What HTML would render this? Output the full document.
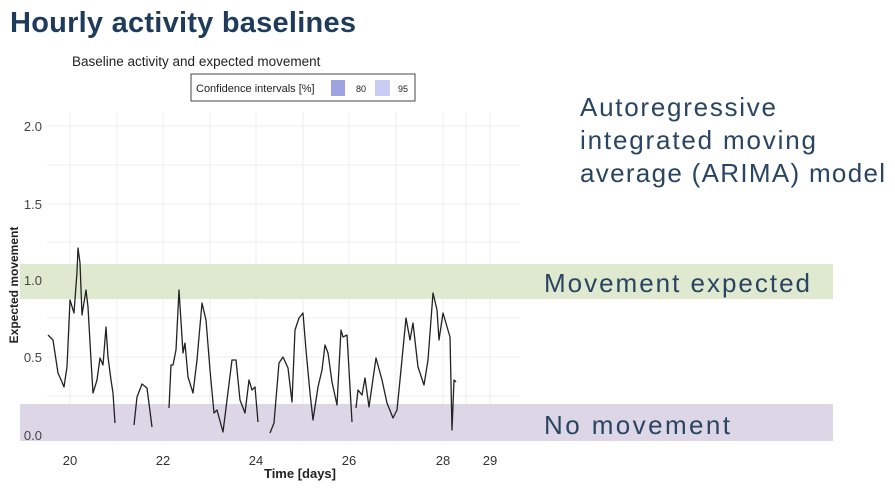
<!DOCTYPE html>
<html><head><meta charset="utf-8"><style>
body{margin:0;width:895px;height:489px;background:#fff;overflow:hidden;font-family:"Liberation Sans",sans-serif;}
</style></head><body>
<svg width="895" height="489" xmlns="http://www.w3.org/2000/svg" font-family="Liberation Sans, sans-serif">
<text x="10" y="32" font-size="29" font-weight="bold" fill="#1f3b5c" textLength="346">Hourly activity baselines</text>
<text x="72" y="66" font-size="13.5" fill="#222">Baseline activity and expected movement</text>
<rect x="191" y="74" width="224" height="27" fill="#fff" stroke="#444" stroke-width="1"/>
<text x="196" y="92" font-size="11" fill="#222">Confidence intervals [%]</text>
<rect x="331" y="80" width="14" height="16" fill="#9da3e0"/>
<text x="356" y="92" font-size="9" fill="#222">80</text>
<rect x="375" y="80" width="15" height="16" fill="#c9cdf4"/>
<text x="398" y="92" font-size="9" fill="#222">95</text>
<g stroke="#ececec" stroke-width="1">
<line x1="47" y1="126" x2="520" y2="126"/><line x1="47" y1="165" x2="520" y2="165"/>
<line x1="47" y1="204" x2="520" y2="204"/><line x1="47" y1="242" x2="520" y2="242"/>
<line x1="47" y1="280" x2="520" y2="280"/><line x1="47" y1="318" x2="520" y2="318"/>
<line x1="47" y1="357" x2="520" y2="357"/><line x1="47" y1="396" x2="520" y2="396"/>
<line x1="47" y1="435" x2="520" y2="435"/>
<line x1="70" y1="112" x2="70" y2="442"/><line x1="117" y1="112" x2="117" y2="442"/>
<line x1="163" y1="112" x2="163" y2="442"/><line x1="210" y1="112" x2="210" y2="442"/>
<line x1="256" y1="112" x2="256" y2="442"/><line x1="303" y1="112" x2="303" y2="442"/>
<line x1="349" y1="112" x2="349" y2="442"/><line x1="396" y1="112" x2="396" y2="442"/>
<line x1="443" y1="112" x2="443" y2="442"/><line x1="466" y1="112" x2="466" y2="442"/>
<line x1="490" y1="112" x2="490" y2="442"/>
</g>
<rect x="20" y="264" width="813" height="35" fill="#dfe9cf"/>
<rect x="20" y="404" width="813" height="37" fill="#dcd6e6"/>
<g font-size="13" fill="#444" text-anchor="end">
<text x="42" y="131">2.0</text><text x="42" y="209">1.5</text><text x="42" y="285">1.0</text>
<text x="42" y="362">0.5</text><text x="42" y="440">0.0</text></g>
<g font-size="13" fill="#333" text-anchor="middle">
<text x="70" y="465">20</text><text x="163" y="465">22</text><text x="256" y="465">24</text>
<text x="349" y="465">26</text><text x="443" y="465">28</text><text x="490" y="465">29</text></g>
<text x="300" y="478" font-size="13" font-weight="bold" fill="#222" text-anchor="middle">Time [days]</text>
<text transform="translate(18,285) rotate(-90)" font-size="12" font-weight="bold" fill="#222" text-anchor="middle">Expected movement</text>
<g fill="none" stroke="#222" stroke-width="1.3" stroke-linejoin="round">
<polyline points="48,335 53,340 58,373 62,382 64,387 67,367 70,300 74,313 77,272 78,248 80,263 82,315 86,290 88,307 91,360 93,393 97,380 100,358 103,365 106,327 108,357 111,380 113,393 115,423"/>
<polyline points="134,425 137,397 142,384 147,388 152,427"/>
<polyline points="169,408 171,365 173,365 176,350 179,290 183,353 185,343 188,377 193,393 197,360 202,303 206,320 210,370 214,413 217,410 223,432 227,400 232,360 236,360 240,400 245,413 249,380 252,390 255,387 258,422"/>
<polyline points="270,433 274,423 279,363 283,357 288,368 292,402 295,330 299,318 303,313 306,350 310,393 313,420 318,387 322,370 325,345 328,353 332,382 337,405 341,330 343,337 347,335 352,422"/>
<polyline points="356,408 358,390 362,395 365,378 369,407 376,358 382,380 387,403 393,418 397,410 400,380 406,318 410,340 413,323 418,367 424,385 428,360 433,293 437,310 439,340 443,313 450,337 452,430 454,380 456,382"/>
</g>
<g font-size="26" fill="#2a4562">
<text x="580" y="116" textLength="196">Autoregressive</text>
<text x="580" y="149" textLength="236">integrated moving</text>
<text x="580" y="182" textLength="305">average (ARIMA) model</text>
<text x="544" y="292" textLength="266">Movement expected</text>
<text x="544" y="434" textLength="186">No movement</text>
</g>
</svg>
</body></html>
